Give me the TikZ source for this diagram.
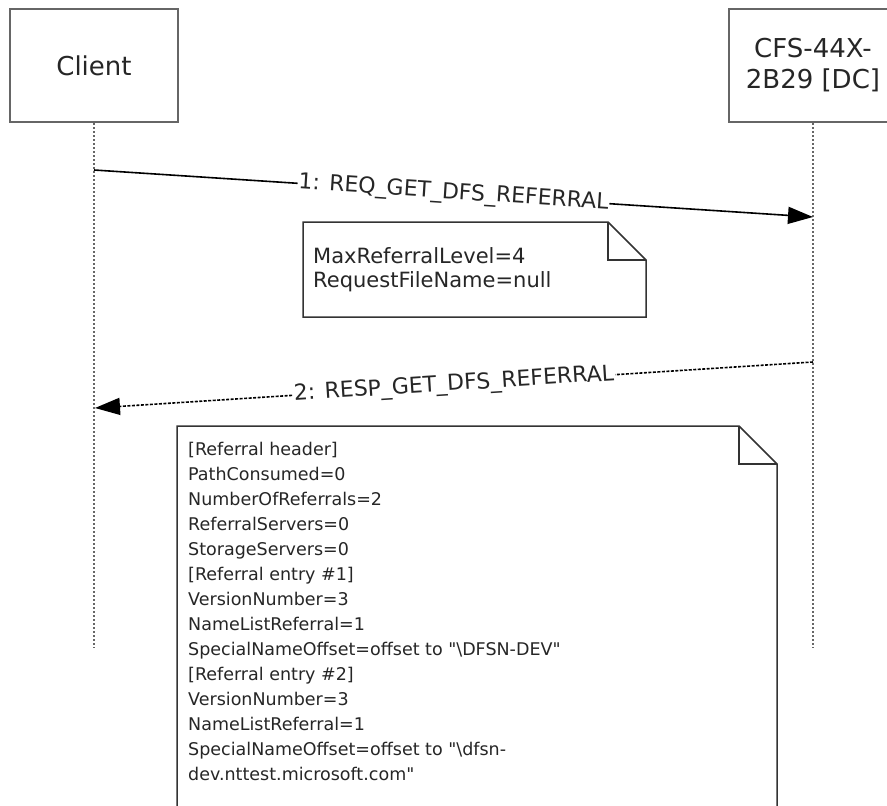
\documentclass[tikz,border=0pt]{standalone}
\usepackage{fontspec}
\setmainfont{DejaVu Sans}[Ligatures=TeXOff]
\usetikzlibrary{arrows.meta}

\begin{document}
\begin{tikzpicture}[x=1pt,y=-1pt]
        \tikzstyle{every node} = [inner sep=0pt, text=black!85]
        \tikzstyle{head} = [rectangle, draw=black!60, line width=2.5pt, minimum width=168pt, minimum height=113pt, align=center, font=\fontsize{26}{31}\selectfont]
        \tikzstyle{life} = [draw=black!60, line width=2.5pt, dash pattern=on 2pt off 2pt]
        \tikzstyle{msg} = [line width=1.6pt, -{Triangle[length=25pt,width=17pt]}]
        \tikzstyle{lbl} = [fill=white, inner sep=1pt, sloped, font=\fontsize{22}{24}\selectfont]
        \tikzstyle{note} = [draw=black!80, line width=1.5pt, fill=white]

        \useasboundingbox (0,0) rectangle (887,806);
        \clip (0,0) rectangle (887,806);

        % lifelines
        \node[head] (c) at (94,65.5) {Client};
        \node[head] (s) at (813,65.5) {CFS-44X-\\2B29 [DC]};
        \coordinate (ce) at (94,648);
        \coordinate (se) at (813,648);
        \foreach \from/\to in {c/ce, s/se}
            \draw[life] (\from.south) -- (\to);

        % messages
        \coordinate (m1a) at (94,170);
        \coordinate (m1b) at (813,217);
        \coordinate (m2a) at (813,362);
        \coordinate (m2b) at (95,408);
        \draw[msg] (m1a) -- node[lbl] (l1) {1: REQ\_GET\_DFS\_REFERRAL} (m1b);
        \draw[msg, dash pattern=on 3pt off 1.5pt] (m2a) -- node[lbl] (l2) {2: RESP\_GET\_DFS\_REFERRAL} (m2b);

        % request note
        \draw[note] (303,222) -- (608,222) -- (646,260) -- (646,317) -- (303,317) -- cycle;
        \draw[note, fill=none] (608,222) -- (608,260) -- (646,260);
        \foreach \txt [count=\i] in {MaxReferralLevel=4, RequestFileName=null}
            \node[anchor=base west, font=\fontsize{21}{24}\selectfont] (q\i) at (313,{263+24*(\i-1)}) {\txt};

        % response note
        \draw[note] (177,426) -- (739,426) -- (777,464) -- (777,830) -- (177,830) -- cycle;
        \draw[note, fill=none] (739,426) -- (739,464) -- (777,464);
        \foreach \txt [count=\i] in {[Referral header], PathConsumed=0, NumberOfReferrals=2,
                ReferralServers=0, StorageServers=0, [Referral entry \#1], VersionNumber=3,
                NameListReferral=1, SpecialNameOffset=offset to "\textbackslash DFSN-DEV",
                [Referral entry \#2], VersionNumber=3, NameListReferral=1,
                SpecialNameOffset=offset to "\textbackslash dfsn-, dev.nttest.microsoft.com"}
            \node[anchor=base west, font=\fontsize{17.5}{25}\selectfont] (r\i) at (188,{455+25*(\i-1)}) {\txt};
\end{tikzpicture}
\end{document}
